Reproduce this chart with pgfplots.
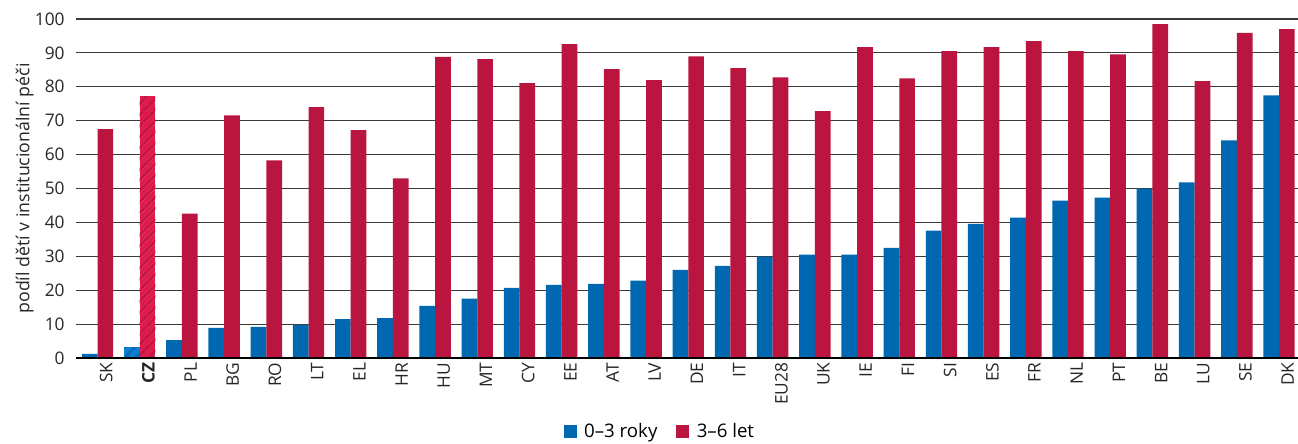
\documentclass[border=0pt]{standalone}
\usepackage{pgfplots}
\pgfplotsset{compat=1.18}
\usepackage{fontspec}
\setmainfont{Open Sans}
\usetikzlibrary{patterns.meta}
\definecolor{cblue}{HTML}{0068B0}
\definecolor{cred}{HTML}{BA153E}
\definecolor{czblue}{HTML}{0F7ED2}
\definecolor{czbluedark}{HTML}{0068B8}
\definecolor{czred}{HTML}{E01A4C}
\definecolor{czreddark}{HTML}{C2173F}
\definecolor{gridc}{HTML}{3A3A3A}

\pgfplotstableread{
x y
0 1.2
2 5.3
3 8.9
4 9.2
5 9.8
6 11.5
7 11.8
8 15.4
9 17.5
10 20.7
11 21.6
12 21.9
13 22.8
14 26.0
15 27.2
16 29.9
17 30.5
18 30.5
19 32.5
20 37.6
21 39.6
22 41.4
23 46.4
24 47.3
25 50.0
26 51.8
27 64.2
28 77.5
}\blue

\pgfplotstableread{
x y
0 67.5
2 42.6
3 71.6
4 58.3
5 74.0
6 67.2
7 53.0
8 88.8
9 88.2
10 81.1
11 92.6
12 85.2
13 82.0
14 89.0
15 85.5
16 82.8
17 72.8
18 91.7
19 82.5
20 90.5
21 91.7
22 93.5
23 90.5
24 89.6
25 98.5
26 81.7
27 95.9
28 97.0
}\red

\begin{document}
\begin{tikzpicture}
\begin{axis}[
  at={(57pt,63.75pt)}, anchor=south west,
  scale only axis, width=916.5pt, height=254.25pt,
  xmin=-0.51, xmax=28.45, ymin=0, ymax=100,
  axis line style={draw=none},
  ytick={0,10,...,100},
  xtick={0,...,28},
  xticklabels={SK,\textbf{CZ},PL,BG,RO,LT,EL,HR,HU,MT,CY,EE,AT,LV,DE,IT,EU28,UK,IE,FI,SI,ES,FR,NL,PT,BE,LU,SE,DK},
  major tick length=0pt,
  tick style={draw=none},
  ymajorgrids,
  grid style={gridc, line width=0.9pt},
  yticklabel style={font=\fontsize{13pt}{15pt}\selectfont, text=black!85, anchor=east, xshift=-5pt},
  xticklabel style={font=\fontsize{13pt}{15pt}\selectfont, text=black!85, rotate=90, anchor=east, yshift=-6.5pt},
  /pgf/number format/assume math mode=true,
  ylabel={podíl dětí v institucionální péči},
  ylabel style={font=\fontsize{13.3pt}{15pt}\selectfont, text=black!85},
  ylabel shift=-6pt,
  legend style={at={(0.478,-0.218)}, anchor=center, draw=none, fill=none,
    font=\fontsize{14pt}{16pt}\selectfont, legend columns=2,
    /tikz/every odd column/.append style={column sep=3.5pt},
    /tikz/every even column/.append style={column sep=12pt}},
  legend image code/.code={\fill[#1] (0pt,-4.5pt) rectangle (10pt,5.5pt);},
]
\addplot[ybar, fill=cblue, draw=none, bar width=0.372, bar shift=-0.186] table[x=x,y=y] {\blue};
\addlegendentry{0–3 roky}
\addplot[ybar, fill=cred, draw=none, bar width=0.372, bar shift=0.186] table[x=x,y=y] {\red};
\addlegendentry{3–6 let}
\addplot[ybar, forget plot, draw=none, fill=czblue, postaction={pattern={Lines[angle=45,distance=6.5pt,line width=2.5pt]}, pattern color=czbluedark}, bar width=0.372, bar shift=-0.186] coordinates {(1,3.2)};
\addplot[ybar, forget plot, draw=none, fill=czred, postaction={pattern={Lines[angle=45,distance=6.5pt,line width=2.5pt]}, pattern color=czreddark}, bar width=0.372, bar shift=0.186] coordinates {(1,77.2)};
\draw[black, line width=1.3pt] (axis cs:-0.51,0) -- (axis cs:28.45,0);
\end{axis}
\pgfresetboundingbox
\path[use as bounding box] (0,0) rectangle (973.5pt,332.25pt);
\end{tikzpicture}
\end{document}
